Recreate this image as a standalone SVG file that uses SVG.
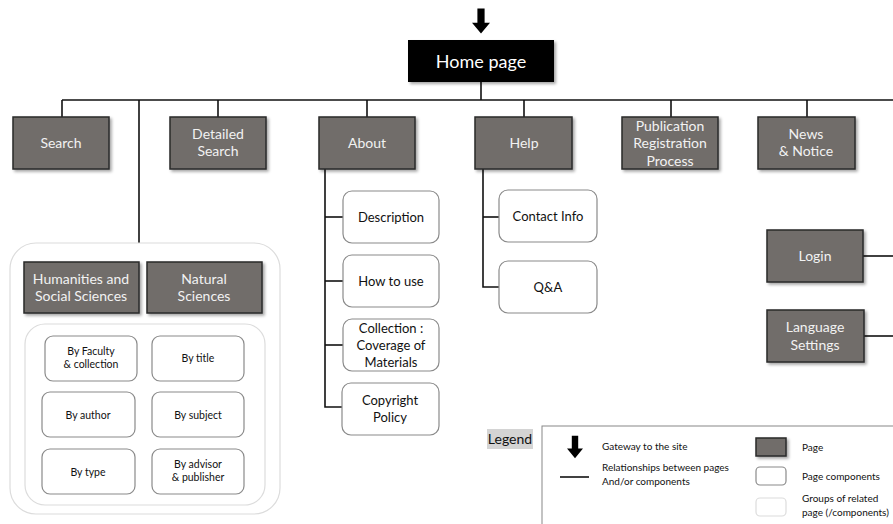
<svg xmlns="http://www.w3.org/2000/svg" width="893" height="524" viewBox="0 0 893 524">
  <defs>
    <style>
      text { font-family: Lato, "Liberation Sans", sans-serif; text-anchor: middle; }
      .page { fill: #716d6b; stroke: #2a2a2a; stroke-width: 1.5; filter: url(#shadow); }
      .ptxt { fill: #f2f2f2; font-size: 14px; }
      .comp { fill: #ffffff; stroke: #8a8a8a; stroke-width: 1.2; }
      .ctxt { fill: #111; font-size: 13px; }
      .stxt { fill: #111; font-size: 10.5px; }
      .group { fill: #ffffff; stroke: #dcdcdc; stroke-width: 1.2; }
      .link { fill: none; stroke: #111; stroke-width: 1.6; }
      .ltxt { fill: #111; font-size: 10px; text-anchor: start; }
    </style>
    <filter id="shadow" x="-10%" y="-10%" width="130%" height="140%">
      <feDropShadow dx="2" dy="2" stdDeviation="1.5" flood-color="#000" flood-opacity="0.35"/>
    </filter>
    <symbol id="gate" viewBox="0 0 20 28">
      <polygon points="6,0 14,0 14,16 20,16 10,28 0,16 6,16" fill="#000"/>
    </symbol>
  </defs>

  <!-- entry arrow -->
  <use href="#gate" x="472" y="7" width="18" height="28"/>

  <!-- connectors -->
  <g id="connectors" class="link">
    <path d="M481 82 V100"/>
    <path d="M62 100 H893"/>
    <path d="M62 100 V117"/>
    <path d="M139 100 V243"/>
    <path d="M218 100 V117"/>
    <path d="M367 100 V117"/>
    <path d="M524 100 V117"/>
    <path d="M671 100 V117"/>
    <path d="M807 100 V117"/>
    <path d="M325 169 V407 H343"/>
    <path d="M325 217 H343"/>
    <path d="M325 281 H343"/>
    <path d="M325 345 H343"/>
    <path d="M483 169 V287 H499"/>
    <path d="M483 217 H499"/>
    <path d="M863 256 H893"/>
    <path d="M864 336 H893"/>
  </g>

  <!-- home -->
  <g id="home">
    <rect x="408" y="40" width="146" height="42" fill="#000" filter="url(#shadow)"/>
    <text x="481" y="68" fill="#fff" font-size="18">Home page</text>
  </g>

  <!-- top-level pages -->
  <g id="search">
    <rect class="page" x="13" y="117" width="96" height="52"/>
    <text class="ptxt" x="61" y="148">Search</text>
  </g>
  <g id="detailed-search">
    <rect class="page" x="170" y="117" width="96" height="52"/>
    <text class="ptxt" x="218" y="139">Detailed</text>
    <text class="ptxt" x="218" y="156">Search</text>
  </g>
  <g id="about">
    <rect class="page" x="319" y="117" width="96" height="52"/>
    <text class="ptxt" x="367" y="148">About</text>
  </g>
  <g id="help">
    <rect class="page" x="475" y="117" width="97" height="52"/>
    <text class="ptxt" x="524" y="148">Help</text>
  </g>
  <g id="publication">
    <rect class="page" x="622" y="117" width="96" height="52"/>
    <text class="ptxt" x="670" y="131">Publication</text>
    <text class="ptxt" x="670" y="148">Registration</text>
    <text class="ptxt" x="670" y="166">Process</text>
  </g>
  <g id="news">
    <rect class="page" x="758" y="117" width="97" height="52"/>
    <text class="ptxt" x="806" y="139">News</text>
    <text class="ptxt" x="806" y="156">&amp; Notice</text>
  </g>
  <g id="login">
    <rect class="page" x="767" y="230" width="96" height="52"/>
    <text class="ptxt" x="815" y="261">Login</text>
  </g>
  <g id="language">
    <rect class="page" x="767" y="310" width="97" height="52"/>
    <text class="ptxt" x="815" y="332">Language</text>
    <text class="ptxt" x="815" y="350">Settings</text>
  </g>

  <!-- about components -->
  <g id="description">
    <rect class="comp" x="343" y="191" width="96" height="52" rx="9"/>
    <text class="ctxt" x="391" y="222">Description</text>
  </g>
  <g id="how-to-use">
    <rect class="comp" x="343" y="255" width="96" height="52" rx="9"/>
    <text class="ctxt" x="391" y="286">How to use</text>
  </g>
  <g id="collection">
    <rect class="comp" x="343" y="319" width="96" height="52" rx="9"/>
    <text class="ctxt" x="391" y="333">Collection :</text>
    <text class="ctxt" x="391" y="350">Coverage of</text>
    <text class="ctxt" x="391" y="367">Materials</text>
  </g>
  <g id="copyright">
    <rect class="comp" x="342" y="383" width="97" height="52" rx="9"/>
    <text class="ctxt" x="390" y="405">Copyright</text>
    <text class="ctxt" x="390" y="422">Policy</text>
  </g>

  <!-- help components -->
  <g id="contact">
    <rect class="comp" x="499" y="190" width="98" height="52" rx="9"/>
    <text class="ctxt" x="548" y="221">Contact Info</text>
  </g>
  <g id="qa">
    <rect class="comp" x="499" y="261" width="98" height="52" rx="9"/>
    <text class="ctxt" x="548" y="292">Q&amp;A</text>
  </g>

  <!-- search categories group -->
  <g id="search-group">
    <rect class="group" x="10" y="243" width="270" height="271" rx="26"/>
    <g id="humanities">
      <rect class="page" x="24" y="262" width="115" height="51"/>
      <text class="ptxt" x="81" y="284">Humanities and</text>
      <text class="ptxt" x="81" y="301">Social Sciences</text>
    </g>
    <g id="natural">
      <rect class="page" x="147" y="262" width="115" height="51"/>
      <text class="ptxt" x="204" y="284">Natural</text>
      <text class="ptxt" x="204" y="301">Sciences</text>
    </g>
    <rect class="group" x="25" y="324" width="240" height="181" rx="20"/>
    <g id="by-faculty">
      <rect class="comp" x="45" y="336" width="92" height="45" rx="8"/>
      <text class="stxt" x="91" y="355">By Faculty</text>
      <text class="stxt" x="91" y="368">&amp; collection</text>
    </g>
    <g id="by-title">
      <rect class="comp" x="152" y="336" width="92" height="45" rx="8"/>
      <text class="stxt" x="198" y="362">By title</text>
    </g>
    <g id="by-author">
      <rect class="comp" x="42" y="392" width="93" height="45" rx="8"/>
      <text class="stxt" x="88" y="419">By author</text>
    </g>
    <g id="by-subject">
      <rect class="comp" x="152" y="392" width="92" height="45" rx="8"/>
      <text class="stxt" x="198" y="419">By subject</text>
    </g>
    <g id="by-type">
      <rect class="comp" x="42" y="449" width="93" height="45" rx="8"/>
      <text class="stxt" x="88" y="476">By type</text>
    </g>
    <g id="by-advisor">
      <rect class="comp" x="152" y="449" width="92" height="45" rx="8"/>
      <text class="stxt" x="198" y="468">By advisor</text>
      <text class="stxt" x="198" y="481">&amp; publisher</text>
    </g>
  </g>

  <!-- legend -->
  <g id="legend">
    <rect x="487" y="429" width="46" height="20" fill="#d4d4d4"/>
    <text x="510" y="444" font-size="14" fill="#111">Legend</text>
    <rect x="542" y="426" width="360" height="110" fill="#fff" stroke="#888" stroke-width="1"/>
    <use href="#gate" x="567" y="435" width="16" height="24"/>
    <text class="ltxt" x="602" y="450">Gateway to the site</text>
    <line x1="560" y1="477" x2="589" y2="477" stroke="#111" stroke-width="1.6"/>
    <text class="ltxt" x="602" y="471">Relationships between pages</text>
    <text class="ltxt" x="602" y="485">And/or components</text>
    <rect class="page" x="756" y="438" width="30" height="18"/>
    <text class="ltxt" x="802" y="451">Page</text>
    <rect class="comp" x="756" y="467" width="30" height="18" rx="4"/>
    <text class="ltxt" x="802" y="480">Page components</text>
    <rect class="group" x="756" y="498" width="30" height="18" rx="4"/>
    <text class="ltxt" x="802" y="502">Groups of related</text>
    <text class="ltxt" x="802" y="516">page (/components)</text>
  </g>
</svg>
